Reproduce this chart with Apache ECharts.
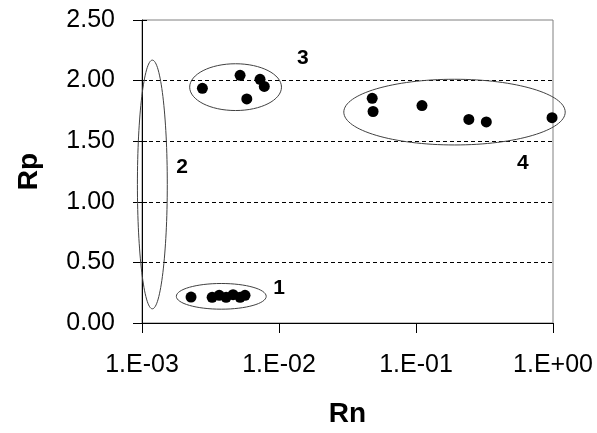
<!DOCTYPE html>
<html>
<head>
<meta charset="utf-8">
<script src="https://cdn.jsdelivr.net/npm/echarts@6/dist/echarts.min.js"></script>
<style>
html, body { margin: 0; padding: 0; background: #fff; }
#chart { width: 597px; height: 433px; }
</style>
</head>
<body>
<div id="chart"></div>
<script>
// measured points (Rn, Rp)
var rnValues = [0.00228, 0.00325, 0.00366, 0.00411, 0.00462, 0.0052, 0.00565,
    0.00276, 0.0052, 0.00582, 0.00727, 0.00781,
    0.0479, 0.0486, 0.1106, 0.243, 0.326, 0.984];
var rpValues = [0.214, 0.212, 0.228, 0.212, 0.234, 0.212, 0.228,
    1.936, 2.044, 1.849, 2.011, 1.952,
    1.854, 1.745, 1.794, 1.680, 1.659, 1.694];

var xTickLabels = ['1.E-03', '1.E-02', '1.E-01', '1.E+00'];
var yTickLabels = ['0.00', '0.50', '1.00', '1.50', '2.00', '2.50'];

// group outlines: centre (Rn, Rp), half width in decades, half height in Rp
var groupNames = ['1', '2', '3', '4'];
var groupRn = [0.00379, 0.00119, 0.00482, 0.191];
var groupRp = [0.22, 1.143, 1.946, 1.74];
var groupHalfDec = [0.328, 0.109, 0.335, 0.808];
var groupHalfRp = [0.106, 1.026, 0.193, 0.271];

// group number labels
var labelRn = [0.01, 0.00196, 0.0149, 0.603];
var labelRp = [0.288, 1.283, 2.188, 1.319];

var font = 'Liberation Sans, Arial, sans-serif';

var points = rnValues.map(function (v, i) { return [v, rpValues[i]]; });
var outlines = groupRn.map(function (v, i) {
    return [v, groupRp[i], groupHalfDec[i], groupHalfRp[i]];
});
var labels = labelRn.map(function (v, i) { return [v, labelRp[i], groupNames[i]]; });

var myChart = echarts.init(document.getElementById('chart'));
myChart.setOption({
    animation: false,
    grid: {
        left: 142, right: 44, top: 20, bottom: 106,
        show: true,
        borderColor: '#808080',
        borderWidth: 1
    },
    xAxis: {
        type: 'log',
        logBase: 10,
        min: 0.001,
        max: 1,
        name: 'Rn',
        nameLocation: 'middle',
        nameGap: 77,
        nameTextStyle: { fontFamily: font, fontSize: 28, fontWeight: 'bold', color: '#000' },
        axisLine: { lineStyle: { color: '#000', width: 1 } },
        axisTick: { show: true, length: 10, lineStyle: { color: '#000' } },
        axisLabel: {
            margin: 30,
            fontFamily: font, fontSize: 25, color: '#000',
            formatter: function (v) {
                return xTickLabels[Math.round(Math.log10(v)) + 3];
            }
        },
        splitLine: { show: false },
        minorTick: { show: false }
    },
    yAxis: [{
        type: 'value',
        min: 0,
        max: 2.5,
        interval: 0.5,
        name: 'Rp',
        nameLocation: 'middle',
        nameGap: 99,
        nameTextStyle: { fontFamily: font, fontSize: 28, fontWeight: 'bold', color: '#000' },
        axisLine: { show: true, lineStyle: { color: '#000', width: 1 } },
        axisTick: { show: true, length: 9, lineStyle: { color: '#000' } },
        axisLabel: {
            margin: 27,
            fontFamily: font, fontSize: 25, color: '#000',
            formatter: function (v) { return yTickLabels[Math.round(v / 0.5)]; }
        },
        splitLine: {
            show: true,
            lineStyle: {
                color: ['#000', '#000', '#000', '#000', '#000', 'transparent'],
                type: [4, 3],
                width: 1
            }
        }
    }, {
        type: 'value',
        min: 0,
        max: 2.5,
        interval: 0.5,
        position: 'left',
        axisLine: { show: false },
        axisTick: { show: true, inside: true, length: 5, lineStyle: { color: '#000' } },
        axisLabel: { show: false },
        splitLine: { show: false }
    }],
    series: [
        {
            type: 'custom',
            clip: false,
            silent: true,
            data: outlines,
            renderItem: function (params, api) {
                var rn = api.value(0), rp = api.value(1);
                var c = api.coord([rn, rp]);
                var e = api.coord([rn * Math.pow(10, api.value(2)), rp + api.value(3)]);
                return {
                    type: 'ellipse',
                    shape: { cx: c[0], cy: c[1], rx: e[0] - c[0], ry: c[1] - e[1] },
                    style: { fill: null, stroke: '#404040', lineWidth: 1 }
                };
            },
            z: 3
        },
        {
            type: 'scatter',
            data: points,
            symbol: 'circle',
            symbolSize: 11,
            itemStyle: { color: '#000', opacity: 1 },
            z: 4
        },
        {
            type: 'scatter',
            data: labels,
            symbolSize: 0,
            silent: true,
            itemStyle: { opacity: 1 },
            label: {
                show: true,
                position: 'inside',
                formatter: function (p) { return p.data[2]; },
                fontFamily: font, fontSize: 21, fontWeight: 'bold', color: '#000'
            },
            z: 5
        }
    ]
});
window.onresize = myChart.resize;
</script>
</body>
</html>
